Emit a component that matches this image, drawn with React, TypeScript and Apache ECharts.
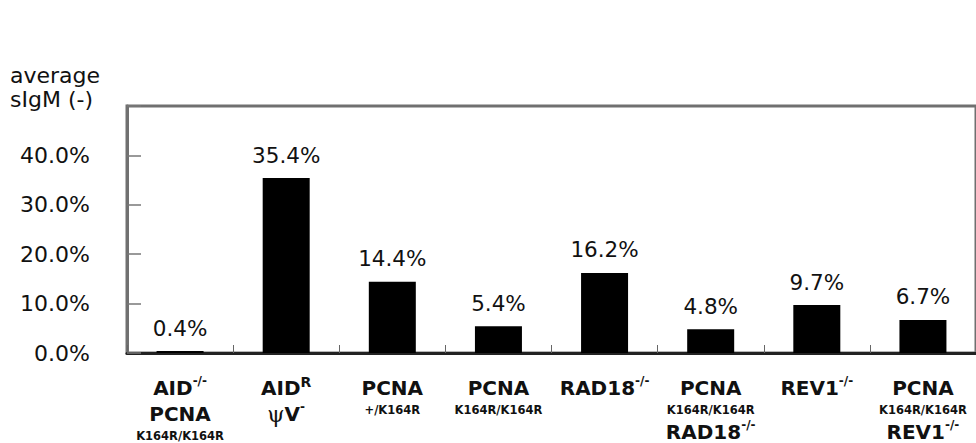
import React, { useEffect, useRef } from 'react';
import * as echarts from 'echarts';

const categories = [
  'AID-/- PCNA K164R/K164R',
  'AIDR ψV-',
  'PCNA +/K164R',
  'PCNA K164R/K164R',
  'RAD18-/-',
  'PCNA K164R/K164R RAD18-/-',
  'REV1-/-',
  'PCNA K164R/K164R REV1-/-',
];
const categoryLabels = [
  '{b|AID}{sup|-/-}\n{b|PCNA}\n{s|K164R/K164R}',
  '{b|AID}{supR|R}\n{psi|ψ}{b|V}{sup|-}',
  '{b|PCNA}\n{s|+/K164R}',
  '{b|PCNA}\n{s|K164R/K164R}',
  '{b|RAD18}{sup|-/-}',
  '{b|PCNA}\n{s|K164R/K164R}\n{b|RAD18}{sup|-/-}',
  '{b|REV1}{sup|-/-}',
  '{b|PCNA}\n{s|K164R/K164R}\n{b|REV1}{sup|-/-}',
];
const sigmValues = [0.4, 35.4, 14.4, 5.4, 16.2, 4.8, 9.7, 6.7];
const yMin = 0;
const yMax = 50;
const yInterval = 10;
const titleText = 'average\nsIgM (-)';

const FONT = 'DejaVu Sans';

export default function App() {
  const ref = useRef<HTMLDivElement>(null);
  useEffect(() => {
    if (!ref.current) return;
    const chart = echarts.init(ref.current, undefined, { renderer: 'svg' });
    chart.setOption({
      animation: false,
      backgroundColor: '#ffffff',
      title: {
        text: titleText,
        left: 10,
        top: 63,
        padding: 0,
        textStyle: {
          fontFamily: FONT,
          fontSize: 22,
          fontWeight: 'normal',
          color: '#111',
          lineHeight: 24,
        },
      },
      grid: {
        left: 127,
        right: -10,
        top: 106,
        bottom: 90,
        show: true,
        borderColor: '#707070',
        borderWidth: 3,
        backgroundColor: 'transparent',
      },
      xAxis: {
        type: 'category',
        data: categories,
        axisLine: { show: true, lineStyle: { color: '#222', width: 3 } },
        axisTick: {
          show: true,
          inside: true,
          length: 8,
          alignWithLabel: false,
          lineStyle: { color: '#666', width: 1 },
        },
        axisLabel: {
          interval: 0,
          margin: 22,
          color: '#111',
          formatter: (_v: string, i: number) => categoryLabels[i],
          rich: {
            b: { fontFamily: FONT, fontWeight: 'bold', fontSize: 20, lineHeight: 26, color: '#111' },
            sup: { fontFamily: FONT, fontWeight: 'bold', fontSize: 12, lineHeight: 12, verticalAlign: 'top', color: '#111' },
            supR: { fontFamily: FONT, fontWeight: 'bold', fontSize: 14, lineHeight: 14, verticalAlign: 'top', color: '#111' },
            s: { fontFamily: FONT, fontWeight: 'bold', fontSize: 11.5, lineHeight: 18, color: '#111' },
            psi: { fontFamily: 'DejaVu Serif', fontWeight: 'normal', fontSize: 22, lineHeight: 26, color: '#111' },
          },
        },
        splitLine: { show: false },
      },
      yAxis: {
        type: 'value',
        min: yMin,
        max: yMax,
        interval: yInterval,
        axisLine: { show: true, lineStyle: { color: '#707070', width: 3 } },
        axisTick: { show: true, inside: true, length: 14, lineStyle: { color: '#777', width: 1.5 } },
        axisLabel: {
          margin: 37,
          fontFamily: FONT,
          fontSize: 22,
          color: '#111',
          formatter: (v: number) => (v >= yMax ? '' : v.toFixed(1) + '%'),
        },
        splitLine: { show: false },
      },
      series: [
        {
          type: 'bar',
          data: sigmValues,
          barWidth: 47,
          itemStyle: { color: '#000' },
          label: {
            show: true,
            position: 'top',
            distance: 12,
            fontFamily: FONT,
            fontSize: 21.5,
            color: '#111',
            formatter: (p: any) => Number(p.value).toFixed(1) + '%',
          },
        },
      ],
    });
    return () => chart.dispose();
  }, []);
  return (
    <div
      ref={ref}
      style={{ position: 'fixed', left: 0, top: 0, width: 976, height: 443, background: '#fff' }}
    />
  );
}
